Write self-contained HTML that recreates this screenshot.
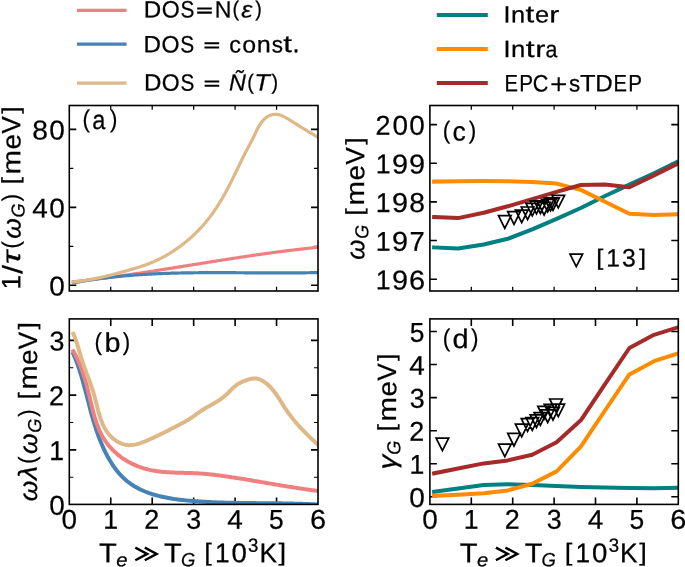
<!DOCTYPE html>
<html><head><meta charset="utf-8"><style>
html,body{margin:0;padding:0;background:#fff;overflow:hidden}
svg{display:block;will-change:transform}
text{font-family:"Liberation Sans",sans-serif;font-kerning:none;stroke:#000;stroke-width:0.25px}
</style></head><body>
<svg width="685" height="567" viewBox="0 0 685 567">
<defs>
<clipPath id="clipa"><rect x="69.3" y="105.5" width="248.7" height="185.5"/></clipPath>
<clipPath id="clipb"><rect x="69.3" y="318.9" width="248.7" height="185.5"/></clipPath>
<clipPath id="clipc"><rect x="429.9" y="105.5" width="248.4" height="185.5"/></clipPath>
<clipPath id="clipd"><rect x="429.9" y="318.9" width="248.4" height="185.5"/></clipPath>
</defs>
<line x1="77.0" y1="10.3" x2="126.6" y2="10.3" stroke="#F08080" stroke-width="3.2"/>
<line x1="77.0" y1="44.2" x2="126.6" y2="44.2" stroke="#4682B4" stroke-width="3.2"/>
<line x1="77.0" y1="83.2" x2="126.6" y2="83.2" stroke="#DEB887" stroke-width="3.2"/>
<line x1="436.8" y1="15.1" x2="487.8" y2="15.1" stroke="#008080" stroke-width="4.0"/>
<line x1="436.8" y1="49.1" x2="487.8" y2="49.1" stroke="#FF8C00" stroke-width="4.0"/>
<line x1="436.8" y1="83.1" x2="487.8" y2="83.1" stroke="#A52A2A" stroke-width="4.0"/>
<path d="M110.75,291v-4.3 M110.75,105.5v4.3 M152.2,291v-4.3 M152.2,105.5v4.3 M193.65,291v-4.3 M193.65,105.5v4.3 M235.1,291v-4.3 M235.1,105.5v4.3 M276.55,291v-4.3 M276.55,105.5v4.3" stroke="#000" stroke-width="1.25" fill="none"/>
<path d="M69.3,285.3h7 M318,285.3h-7 M69.3,207.34h7 M318,207.34h-7 M69.3,129.38h7 M318,129.38h-7" stroke="#000" stroke-width="1.6" fill="none"/>
<path d="M69.3,246.32h4 M318,246.32h-4 M69.3,168.36h4 M318,168.36h-4" stroke="#000" stroke-width="1.2" fill="none"/>
<path d="M110.75,504.4v-7 M110.75,318.9v7 M152.2,504.4v-7 M152.2,318.9v7 M193.65,504.4v-7 M193.65,318.9v7 M235.1,504.4v-7 M235.1,318.9v7 M276.55,504.4v-7 M276.55,318.9v7 M69.3,449.85h7 M318,449.85h-7 M69.3,395.1h7 M318,395.1h-7 M69.3,340.35h7 M318,340.35h-7" stroke="#000" stroke-width="1.6" fill="none"/>
<path d="M69.3,477.23h4 M318,477.23h-4 M69.3,422.48h4 M318,422.48h-4 M69.3,367.73h4 M318,367.73h-4" stroke="#000" stroke-width="1.2" fill="none"/>
<path d="M471.3,291v-4.3 M471.3,105.5v4.3 M512.7,291v-4.3 M512.7,105.5v4.3 M554.1,291v-4.3 M554.1,105.5v4.3 M595.5,291v-4.3 M595.5,105.5v4.3 M636.9,291v-4.3 M636.9,105.5v4.3" stroke="#000" stroke-width="1.25" fill="none"/>
<path d="M429.9,279.2h7 M678.3,279.2h-7 M429.9,240.55h7 M678.3,240.55h-7 M429.9,201.9h7 M678.3,201.9h-7 M429.9,163.25h7 M678.3,163.25h-7 M429.9,124.6h7 M678.3,124.6h-7" stroke="#000" stroke-width="1.6" fill="none"/>
<path d="M471.3,504.4v-7 M471.3,318.9v7 M512.7,504.4v-7 M512.7,318.9v7 M554.1,504.4v-7 M554.1,318.9v7 M595.5,504.4v-7 M595.5,318.9v7 M636.9,504.4v-7 M636.9,318.9v7 M429.9,496.8h7 M678.3,496.8h-7 M429.9,463.74h7 M678.3,463.74h-7 M429.9,430.68h7 M678.3,430.68h-7 M429.9,397.62h7 M678.3,397.62h-7 M429.9,364.56h7 M678.3,364.56h-7 M429.9,331.5h7 M678.3,331.5h-7" stroke="#000" stroke-width="1.6" fill="none"/>
<path clip-path="url(#clipa)" d="M73.31,281.75 L74.26,281.65 L75.21,281.54 L76.16,281.44 L77.11,281.34 L78.06,281.23 L79,281.13 L79.95,281.02 L80.9,280.92 L81.85,280.81 L82.8,280.7 L83.75,280.6 L84.7,280.49 L85.64,280.38 L86.59,280.27 L87.54,280.15 L88.49,280.04 L89.44,279.93 L90.38,279.82 L91.33,279.7 L92.28,279.59 L93.23,279.47 L94.17,279.36 L95.12,279.24 L96.07,279.12 L97.01,279 L97.96,278.88 L98.91,278.76 L99.85,278.64 L100.8,278.52 L101.75,278.4 L102.69,278.28 L103.64,278.16 L104.59,278.03 L105.53,277.91 L106.48,277.79 L107.42,277.66 L108.37,277.54 L109.32,277.41 L110.26,277.28 L111.21,277.16 L112.15,277.03 L113.1,276.9 L114.04,276.77 L114.99,276.64 L115.93,276.51 L116.88,276.38 L117.82,276.25 L118.77,276.12 L119.71,275.99 L120.66,275.85 L121.6,275.72 L122.55,275.59 L123.49,275.45 L124.44,275.32 L125.38,275.19 L126.33,275.05 L127.27,274.91 L128.22,274.78 L129.16,274.64 L130.1,274.5 L131.05,274.37 L131.99,274.23 L132.94,274.09 L133.88,273.95 L134.82,273.81 L135.77,273.67 L136.71,273.53 L137.65,273.39 L138.6,273.25 L139.54,273.11 L140.48,272.97 L141.43,272.83 L142.37,272.69 L143.31,272.55 L144.26,272.4 L145.2,272.26 L146.14,272.12 L147.09,271.97 L148.03,271.83 L148.97,271.68 L149.92,271.54 L150.86,271.39 L151.8,271.25 L152.74,271.1 L153.69,270.96 L154.63,270.81 L155.57,270.67 L156.52,270.52 L157.46,270.37 L158.4,270.23 L159.34,270.08 L160.29,269.93 L161.23,269.78 L162.17,269.64 L163.11,269.49 L164.06,269.34 L165,269.19 L165.94,269.04 L166.88,268.9 L167.82,268.75 L168.77,268.6 L169.71,268.45 L170.65,268.3 L171.59,268.15 L172.54,268 L173.48,267.85 L174.42,267.7 L175.36,267.55 L176.3,267.4 L177.25,267.25 L178.19,267.1 L179.13,266.95 L180.07,266.8 L181.01,266.65 L181.96,266.5 L182.9,266.35 L183.84,266.2 L184.78,266.04 L185.72,265.89 L186.67,265.74 L187.61,265.59 L188.55,265.44 L189.49,265.29 L190.43,265.14 L191.38,264.99 L192.32,264.84 L193.26,264.68 L194.2,264.53 L195.14,264.38 L196.09,264.23 L197.03,264.08 L197.97,263.93 L198.91,263.78 L199.85,263.63 L200.8,263.48 L201.74,263.33 L202.68,263.18 L203.62,263.02 L204.56,262.87 L205.51,262.72 L206.45,262.57 L207.39,262.42 L208.33,262.27 L209.27,262.12 L210.22,261.97 L211.16,261.82 L212.1,261.67 L213.04,261.52 L213.98,261.37 L214.93,261.23 L215.87,261.08 L216.81,260.93 L217.75,260.78 L218.7,260.63 L219.64,260.48 L220.58,260.33 L221.52,260.19 L222.47,260.04 L223.41,259.89 L224.35,259.74 L225.29,259.6 L226.24,259.45 L227.18,259.3 L228.12,259.16 L229.06,259.01 L230.01,258.86 L230.95,258.72 L231.89,258.57 L232.83,258.43 L233.78,258.28 L234.72,258.14 L235.66,257.99 L236.61,257.85 L237.55,257.71 L238.49,257.56 L239.43,257.42 L240.38,257.28 L241.32,257.13 L242.26,256.99 L243.21,256.85 L244.15,256.71 L245.09,256.57 L246.04,256.43 L246.98,256.29 L247.93,256.15 L248.87,256.01 L249.81,255.87 L250.76,255.73 L251.7,255.59 L252.64,255.45 L253.59,255.32 L254.53,255.18 L255.48,255.04 L256.42,254.91 L257.37,254.77 L258.31,254.63 L259.25,254.5 L260.2,254.36 L261.14,254.23 L262.09,254.1 L263.03,253.96 L263.98,253.83 L264.92,253.7 L265.87,253.57 L266.81,253.44 L267.76,253.31 L268.7,253.18 L269.65,253.05 L270.59,252.92 L271.54,252.79 L272.48,252.66 L273.43,252.53 L274.37,252.41 L275.32,252.28 L276.27,252.16 L277.21,252.03 L278.16,251.91 L279.1,251.78 L280.05,251.66 L281,251.54 L281.94,251.41 L282.89,251.29 L283.83,251.17 L284.78,251.05 L285.73,250.93 L286.67,250.81 L287.62,250.7 L288.57,250.58 L289.52,250.46 L290.46,250.34 L291.41,250.23 L292.36,250.11 L293.3,250 L294.25,249.89 L295.2,249.77 L296.15,249.66 L297.1,249.55 L298.04,249.44 L298.99,249.33 L299.94,249.22 L300.89,249.11 L301.84,249 L302.79,248.9 L303.73,248.79 L304.68,248.68 L305.63,248.58 L306.58,248.48 L307.53,248.37 L308.48,248.27 L309.43,248.17 L310.38,248.07 L311.33,247.97 L312.28,247.87 L313.23,247.77 L314.18,247.67 L315.13,247.58 L316.08,247.48 L317.03,247.38 L317.98,247.29" fill="none" stroke="#F08080" stroke-width="3.2" stroke-linecap="square" stroke-linejoin="round"/>
<path clip-path="url(#clipa)" d="M73.41,282.83 L74.35,282.66 L75.28,282.49 L76.22,282.32 L77.15,282.15 L78.09,281.98 L79.02,281.81 L79.96,281.65 L80.89,281.49 L81.83,281.33 L82.76,281.17 L83.7,281.02 L84.64,280.86 L85.57,280.71 L86.51,280.56 L87.45,280.42 L88.38,280.27 L89.32,280.12 L90.26,279.98 L91.19,279.84 L92.13,279.7 L93.07,279.56 L94.01,279.43 L94.95,279.29 L95.88,279.16 L96.82,279.03 L97.76,278.9 L98.7,278.78 L99.64,278.65 L100.57,278.53 L101.51,278.4 L102.45,278.28 L103.39,278.16 L104.33,278.05 L105.27,277.93 L106.21,277.82 L107.15,277.71 L108.09,277.59 L109.03,277.49 L109.97,277.38 L110.91,277.27 L111.85,277.17 L112.79,277.06 L113.73,276.96 L114.67,276.86 L115.61,276.76 L116.55,276.67 L117.49,276.57 L118.43,276.48 L119.37,276.39 L120.31,276.29 L121.25,276.2 L122.19,276.12 L123.14,276.03 L124.08,275.94 L125.02,275.86 L125.96,275.78 L126.9,275.7 L127.84,275.62 L128.79,275.54 L129.73,275.46 L130.67,275.38 L131.61,275.31 L132.55,275.24 L133.5,275.16 L134.44,275.09 L135.38,275.02 L136.32,274.96 L137.27,274.89 L138.21,274.82 L139.15,274.76 L140.1,274.7 L141.04,274.63 L141.98,274.57 L142.93,274.51 L143.87,274.45 L144.81,274.4 L145.76,274.34 L146.7,274.29 L147.64,274.23 L148.59,274.18 L149.53,274.13 L150.48,274.08 L151.42,274.03 L152.36,273.98 L153.31,273.93 L154.25,273.89 L155.2,273.84 L156.14,273.8 L157.09,273.75 L158.03,273.71 L158.98,273.67 L159.92,273.63 L160.87,273.59 L161.81,273.55 L162.76,273.52 L163.7,273.48 L164.65,273.45 L165.59,273.41 L166.54,273.38 L167.48,273.35 L168.43,273.31 L169.37,273.28 L170.32,273.25 L171.26,273.22 L172.21,273.2 L173.15,273.17 L174.1,273.14 L175.05,273.12 L175.99,273.09 L176.94,273.07 L177.88,273.05 L178.83,273.02 L179.78,273 L180.72,272.98 L181.67,272.96 L182.61,272.94 L183.56,272.92 L184.51,272.91 L185.45,272.89 L186.4,272.87 L187.35,272.86 L188.29,272.84 L189.24,272.83 L190.19,272.81 L191.13,272.8 L192.08,272.79 L193.03,272.78 L193.97,272.77 L194.92,272.76 L195.87,272.75 L196.81,272.74 L197.76,272.73 L198.71,272.72 L199.65,272.71 L200.6,272.7 L201.55,272.7 L202.49,272.69 L203.44,272.69 L204.39,272.68 L205.34,272.68 L206.28,272.67 L207.23,272.67 L208.18,272.67 L209.12,272.66 L210.07,272.66 L211.02,272.66 L211.97,272.66 L212.91,272.66 L213.86,272.66 L214.81,272.66 L215.76,272.66 L216.7,272.66 L217.65,272.66 L218.6,272.66 L219.55,272.66 L220.49,272.66 L221.44,272.66 L222.39,272.67 L223.34,272.67 L224.28,272.67 L225.23,272.68 L226.18,272.68 L227.13,272.68 L228.07,272.69 L229.02,272.69 L229.97,272.69 L230.92,272.7 L231.86,272.7 L232.81,272.71 L233.76,272.71 L234.71,272.72 L235.65,272.72 L236.6,272.73 L237.55,272.74 L238.5,272.74 L239.44,272.75 L240.39,272.75 L241.34,272.76 L242.29,272.77 L243.23,272.77 L244.18,272.78 L245.13,272.79 L246.08,272.79 L247.02,272.8 L247.97,272.8 L248.92,272.81 L249.87,272.82 L250.81,272.82 L251.76,272.83 L252.71,272.84 L253.66,272.84 L254.6,272.85 L255.55,272.85 L256.5,272.86 L257.45,272.87 L258.39,272.87 L259.34,272.88 L260.29,272.88 L261.24,272.89 L262.18,272.89 L263.13,272.9 L264.08,272.9 L265.02,272.91 L265.97,272.91 L266.92,272.92 L267.87,272.92 L268.81,272.93 L269.76,272.93 L270.71,272.93 L271.65,272.94 L272.6,272.94 L273.55,272.94 L274.49,272.94 L275.44,272.95 L276.39,272.95 L277.33,272.95 L278.28,272.95 L279.23,272.95 L280.17,272.95 L281.12,272.95 L282.07,272.95 L283.01,272.95 L283.96,272.95 L284.91,272.95 L285.85,272.94 L286.8,272.94 L287.74,272.94 L288.69,272.94 L289.64,272.93 L290.58,272.93 L291.53,272.92 L292.48,272.92 L293.42,272.91 L294.37,272.91 L295.31,272.9 L296.26,272.89 L297.2,272.88 L298.15,272.88 L299.1,272.87 L300.04,272.86 L300.99,272.85 L301.93,272.84 L302.88,272.82 L303.82,272.81 L304.77,272.8 L305.71,272.79 L306.66,272.77 L307.6,272.76 L308.55,272.74 L309.49,272.73 L310.44,272.71 L311.38,272.69 L312.33,272.68 L313.27,272.66 L314.22,272.64 L315.16,272.62 L316.1,272.6 L317.05,272.57 L317.99,272.55" fill="none" stroke="#4682B4" stroke-width="3.2" stroke-linecap="square" stroke-linejoin="round"/>
<path clip-path="url(#clipa)" d="M73.33,282 L74.61,281.86 L75.89,281.71 L77.17,281.56 L78.44,281.39 L79.71,281.23 L80.98,281.05 L82.25,280.87 L83.51,280.68 L84.77,280.48 L86.03,280.28 L87.29,280.07 L88.55,279.85 L89.8,279.63 L91.05,279.4 L92.3,279.16 L93.54,278.92 L94.79,278.68 L96.03,278.42 L97.27,278.17 L98.51,277.9 L99.75,277.64 L100.99,277.36 L102.22,277.09 L103.46,276.8 L104.69,276.52 L105.92,276.22 L107.15,275.93 L108.38,275.63 L109.61,275.32 L110.84,275.01 L112.07,274.7 L113.3,274.38 L114.53,274.06 L115.75,273.74 L116.98,273.41 L118.2,273.08 L119.43,272.75 L120.66,272.41 L121.88,272.07 L123.11,271.73 L124.33,271.39 L125.56,271.04 L126.79,270.69 L128.02,270.34 L129.24,269.99 L130.47,269.63 L131.7,269.27 L132.93,268.91 L134.16,268.55 L135.39,268.19 L136.62,267.82 L137.84,267.44 L139.07,267.06 L140.29,266.68 L141.51,266.29 L142.72,265.89 L143.93,265.48 L145.14,265.06 L146.34,264.64 L147.54,264.2 L148.73,263.76 L149.91,263.3 L151.08,262.83 L152.25,262.35 L153.41,261.85 L154.56,261.35 L155.71,260.83 L156.85,260.3 L157.98,259.76 L159.11,259.21 L160.23,258.65 L161.35,258.07 L162.46,257.49 L163.56,256.89 L164.66,256.28 L165.76,255.67 L166.84,255.04 L167.93,254.4 L169.01,253.75 L170.08,253.09 L171.16,252.42 L172.22,251.74 L173.28,251.05 L174.34,250.34 L175.4,249.63 L176.45,248.91 L177.49,248.18 L178.53,247.44 L179.56,246.7 L180.59,245.94 L181.61,245.17 L182.63,244.39 L183.64,243.61 L184.65,242.81 L185.65,242.01 L186.64,241.2 L187.62,240.38 L188.6,239.55 L189.57,238.71 L190.54,237.87 L191.5,237.01 L192.45,236.15 L193.39,235.28 L194.33,234.4 L195.25,233.52 L196.17,232.62 L197.08,231.72 L197.99,230.81 L198.88,229.9 L199.77,228.98 L200.64,228.05 L201.51,227.11 L202.37,226.16 L203.22,225.21 L204.06,224.26 L204.89,223.29 L205.71,222.32 L206.52,221.34 L207.32,220.36 L208.11,219.37 L208.89,218.37 L209.66,217.37 L210.42,216.36 L211.18,215.35 L211.92,214.33 L212.66,213.3 L213.39,212.27 L214.11,211.24 L214.82,210.2 L215.53,209.15 L216.22,208.1 L216.91,207.04 L217.6,205.98 L218.27,204.91 L218.94,203.84 L219.6,202.77 L220.26,201.69 L220.91,200.6 L221.55,199.51 L222.19,198.42 L222.82,197.33 L223.45,196.22 L224.07,195.12 L224.69,194.01 L225.3,192.9 L225.91,191.78 L226.51,190.67 L227.11,189.54 L227.7,188.42 L228.29,187.29 L228.88,186.16 L229.46,185.02 L230.04,183.89 L230.62,182.75 L231.19,181.6 L231.76,180.46 L232.33,179.31 L232.9,178.16 L233.46,177.01 L234.02,175.86 L234.58,174.71 L235.14,173.55 L235.7,172.4 L236.26,171.24 L236.81,170.09 L237.37,168.93 L237.92,167.78 L238.48,166.63 L239.04,165.48 L239.59,164.33 L240.15,163.18 L240.71,162.03 L241.27,160.88 L241.83,159.74 L242.39,158.6 L242.96,157.46 L243.53,156.33 L244.1,155.2 L244.67,154.07 L245.24,152.95 L245.82,151.83 L246.4,150.72 L246.99,149.61 L247.58,148.5 L248.17,147.4 L248.76,146.29 L249.35,145.19 L249.94,144.09 L250.53,142.99 L251.11,141.88 L251.69,140.77 L252.26,139.65 L252.83,138.53 L253.39,137.4 L253.94,136.26 L254.48,135.11 L255.01,133.96 L255.56,132.79 L256.1,131.62 L256.67,130.45 L257.25,129.28 L257.87,128.1 L258.51,126.93 L259.18,125.78 L259.88,124.64 L260.62,123.53 L261.39,122.46 L262.19,121.42 L263.03,120.43 L263.91,119.49 L264.83,118.61 L265.78,117.81 L266.78,117.07 L267.82,116.42 L268.89,115.85 L270.01,115.37 L271.15,114.99 L272.32,114.69 L273.51,114.49 L274.71,114.38 L275.91,114.37 L277.11,114.46 L278.31,114.65 L279.5,114.93 L280.68,115.3 L281.85,115.75 L283.01,116.26 L284.16,116.82 L285.3,117.42 L286.43,118.05 L287.55,118.7 L288.67,119.36 L289.77,120.03 L290.87,120.71 L291.96,121.4 L293.05,122.08 L294.13,122.77 L295.21,123.46 L296.28,124.14 L297.36,124.82 L298.43,125.49 L299.49,126.16 L300.56,126.83 L301.63,127.49 L302.69,128.14 L303.76,128.8 L304.83,129.45 L305.9,130.1 L306.97,130.74 L308.04,131.39 L309.12,132.04 L310.2,132.68 L311.28,133.33 L312.37,133.98 L313.47,134.63 L314.57,135.28 L315.67,135.93 L316.78,136.59 L317.9,137.25" fill="none" stroke="#DEB887" stroke-width="3.2" stroke-linecap="square" stroke-linejoin="round"/>
<path clip-path="url(#clipb)" d="M73.32,353.77 L73.83,354.96 L74.33,356.15 L74.83,357.35 L75.31,358.54 L75.78,359.74 L76.24,360.94 L76.7,362.15 L77.14,363.35 L77.58,364.56 L78,365.77 L78.43,366.99 L78.84,368.2 L79.24,369.42 L79.64,370.64 L80.03,371.86 L80.42,373.08 L80.8,374.3 L81.17,375.53 L81.54,376.76 L81.9,377.99 L82.26,379.22 L82.61,380.45 L82.96,381.69 L83.31,382.92 L83.65,384.16 L83.99,385.4 L84.32,386.64 L84.65,387.88 L84.98,389.12 L85.31,390.36 L85.64,391.61 L85.96,392.86 L86.29,394.1 L86.61,395.35 L86.93,396.6 L87.25,397.85 L87.58,399.1 L87.9,400.35 L88.22,401.61 L88.54,402.86 L88.87,404.11 L89.2,405.37 L89.52,406.62 L89.85,407.88 L90.19,409.14 L90.52,410.39 L90.86,411.65 L91.2,412.91 L91.55,414.17 L91.9,415.42 L92.25,416.68 L92.61,417.94 L92.98,419.2 L93.34,420.46 L93.72,421.72 L94.1,422.98 L94.48,424.24 L94.88,425.49 L95.28,426.75 L95.68,428.01 L96.1,429.27 L96.52,430.53 L96.95,431.79 L97.38,433.04 L97.83,434.3 L98.28,435.55 L98.75,436.8 L99.22,438.05 L99.7,439.3 L100.18,440.54 L100.68,441.78 L101.19,443.01 L101.71,444.24 L102.23,445.47 L102.77,446.68 L103.31,447.9 L103.87,449.1 L104.43,450.3 L105.01,451.49 L105.6,452.68 L106.19,453.85 L106.8,455.02 L107.42,456.18 L108.05,457.33 L108.69,458.47 L109.34,459.6 L110.01,460.72 L110.68,461.82 L111.37,462.92 L112.07,464 L112.78,465.07 L113.5,466.13 L114.24,467.17 L114.99,468.2 L115.75,469.22 L116.52,470.22 L117.31,471.21 L118.11,472.18 L118.93,473.14 L119.75,474.08 L120.6,475 L121.45,475.9 L122.32,476.79 L123.2,477.66 L124.1,478.51 L125.01,479.35 L125.94,480.16 L126.88,480.95 L127.84,481.73 L128.81,482.48 L129.79,483.21 L130.79,483.93 L131.81,484.62 L132.84,485.29 L133.88,485.95 L134.93,486.58 L136,487.2 L137.08,487.8 L138.17,488.38 L139.27,488.95 L140.39,489.5 L141.52,490.03 L142.65,490.54 L143.8,491.04 L144.96,491.52 L146.13,491.99 L147.31,492.44 L148.5,492.88 L149.7,493.3 L150.9,493.71 L152.12,494.1 L153.34,494.48 L154.57,494.85 L155.81,495.2 L157.06,495.54 L158.31,495.87 L159.57,496.18 L160.84,496.48 L162.11,496.78 L163.39,497.06 L164.67,497.33 L165.96,497.58 L167.26,497.83 L168.56,498.07 L169.86,498.3 L171.17,498.52 L172.48,498.73 L173.79,498.93 L175.11,499.12 L176.43,499.3 L177.76,499.48 L179.08,499.64 L180.41,499.81 L181.74,499.96 L183.07,500.1 L184.4,500.25 L185.73,500.38 L187.06,500.51 L188.39,500.63 L189.73,500.75 L191.06,500.86 L192.39,500.97 L193.72,501.07 L195.05,501.17 L196.37,501.27 L197.7,501.36 L199.02,501.45 L200.34,501.53 L201.66,501.61 L202.97,501.69 L204.29,501.77 L205.6,501.84 L206.91,501.91 L208.22,501.98 L209.53,502.05 L210.83,502.11 L212.14,502.17 L213.44,502.23 L214.74,502.28 L216.04,502.33 L217.34,502.38 L218.63,502.43 L219.93,502.48 L221.22,502.52 L222.51,502.56 L223.8,502.6 L225.09,502.64 L226.38,502.67 L227.67,502.71 L228.96,502.74 L230.24,502.77 L231.53,502.8 L232.81,502.82 L234.1,502.85 L235.38,502.87 L236.66,502.9 L237.94,502.92 L239.22,502.94 L240.5,502.96 L241.78,502.98 L243.06,502.99 L244.34,503.01 L245.62,503.02 L246.9,503.04 L248.18,503.05 L249.45,503.07 L250.73,503.08 L252.01,503.09 L253.28,503.1 L254.56,503.11 L255.84,503.12 L257.12,503.13 L258.39,503.14 L259.67,503.15 L260.95,503.16 L262.23,503.17 L263.5,503.18 L264.78,503.2 L266.06,503.21 L267.34,503.22 L268.62,503.23 L269.9,503.24 L271.18,503.25 L272.46,503.26 L273.75,503.28 L275.03,503.29 L276.31,503.31 L277.6,503.32 L278.88,503.34 L280.17,503.35 L281.46,503.37 L282.75,503.39 L284.04,503.41 L285.33,503.43 L286.62,503.46 L287.91,503.48 L289.21,503.51 L290.5,503.53 L291.8,503.56 L293.1,503.59 L294.4,503.63 L295.7,503.66 L297,503.69 L298.31,503.73 L299.61,503.77 L300.92,503.81 L302.23,503.86 L303.54,503.9 L304.86,503.95 L306.17,504 L307.49,504.05 L308.81,504.11 L310.13,504.17 L311.45,504.23 L312.78,504.29 L314.1,504.35 L315.43,504.42 L316.77,504.49 L318.1,504.57" fill="none" stroke="#4682B4" stroke-width="4.0" stroke-linecap="square" stroke-linejoin="round"/>
<path clip-path="url(#clipb)" d="M73.35,351.22 L73.95,352.29 L74.55,353.36 L75.12,354.44 L75.69,355.52 L76.24,356.61 L76.78,357.7 L77.3,358.8 L77.81,359.9 L78.32,361 L78.8,362.11 L79.28,363.22 L79.75,364.34 L80.2,365.46 L80.65,366.59 L81.08,367.72 L81.51,368.85 L81.92,369.99 L82.33,371.14 L82.73,372.28 L83.12,373.44 L83.5,374.59 L83.88,375.75 L84.24,376.92 L84.6,378.09 L84.95,379.26 L85.3,380.44 L85.64,381.62 L85.98,382.81 L86.31,384 L86.63,385.19 L86.95,386.39 L87.26,387.6 L87.58,388.8 L87.88,390.02 L88.19,391.23 L88.49,392.45 L88.79,393.68 L89.08,394.91 L89.38,396.14 L89.67,397.38 L89.96,398.62 L90.26,399.86 L90.55,401.11 L90.84,402.36 L91.14,403.61 L91.44,404.85 L91.74,406.1 L92.04,407.35 L92.35,408.6 L92.67,409.84 L92.98,411.09 L93.31,412.33 L93.64,413.56 L93.98,414.8 L94.33,416.03 L94.69,417.25 L95.05,418.47 L95.43,419.68 L95.81,420.89 L96.21,422.09 L96.62,423.28 L97.04,424.46 L97.47,425.64 L97.92,426.8 L98.38,427.96 L98.85,429.1 L99.35,430.24 L99.85,431.36 L100.38,432.47 L100.92,433.57 L101.48,434.66 L102.05,435.73 L102.65,436.79 L103.27,437.84 L103.9,438.87 L104.55,439.89 L105.22,440.89 L105.91,441.88 L106.62,442.85 L107.34,443.81 L108.08,444.75 L108.84,445.68 L109.62,446.6 L110.41,447.5 L111.21,448.38 L112.03,449.25 L112.87,450.1 L113.72,450.94 L114.59,451.77 L115.47,452.58 L116.37,453.37 L117.27,454.15 L118.2,454.91 L119.13,455.65 L120.08,456.38 L121.05,457.1 L122.02,457.8 L123.01,458.48 L124.01,459.15 L125.02,459.8 L126.04,460.43 L127.07,461.05 L128.12,461.65 L129.17,462.24 L130.24,462.81 L131.31,463.36 L132.4,463.89 L133.49,464.41 L134.6,464.91 L135.71,465.4 L136.83,465.87 L137.96,466.32 L139.1,466.75 L140.24,467.17 L141.39,467.57 L142.55,467.95 L143.72,468.31 L144.89,468.66 L146.07,468.99 L147.26,469.3 L148.45,469.6 L149.65,469.87 L150.85,470.13 L152.06,470.37 L153.27,470.6 L154.49,470.81 L155.71,471 L156.94,471.19 L158.16,471.35 L159.4,471.51 L160.64,471.65 L161.88,471.78 L163.12,471.9 L164.37,472.01 L165.62,472.11 L166.87,472.21 L168.12,472.29 L169.38,472.36 L170.64,472.43 L171.89,472.49 L173.16,472.55 L174.42,472.6 L175.68,472.64 L176.95,472.68 L178.21,472.72 L179.48,472.76 L180.74,472.79 L182.01,472.82 L183.27,472.85 L184.53,472.89 L185.8,472.92 L187.06,472.95 L188.32,472.98 L189.58,473.02 L190.84,473.06 L192.1,473.1 L193.35,473.15 L194.6,473.2 L195.85,473.26 L197.1,473.33 L198.35,473.4 L199.59,473.47 L200.83,473.56 L202.07,473.65 L203.3,473.74 L204.53,473.84 L205.76,473.95 L206.99,474.06 L208.22,474.18 L209.44,474.31 L210.66,474.43 L211.89,474.57 L213.11,474.7 L214.33,474.85 L215.54,474.99 L216.76,475.14 L217.98,475.29 L219.19,475.45 L220.41,475.61 L221.62,475.77 L222.83,475.94 L224.05,476.11 L225.26,476.28 L226.47,476.46 L227.68,476.63 L228.9,476.81 L230.11,477 L231.32,477.18 L232.54,477.36 L233.75,477.55 L234.97,477.74 L236.18,477.93 L237.4,478.12 L238.61,478.31 L239.83,478.5 L241.04,478.7 L242.26,478.89 L243.48,479.09 L244.7,479.29 L245.91,479.49 L247.13,479.69 L248.35,479.89 L249.57,480.09 L250.79,480.3 L252.01,480.5 L253.22,480.71 L254.44,480.91 L255.66,481.12 L256.88,481.32 L258.1,481.53 L259.32,481.74 L260.54,481.94 L261.77,482.15 L262.99,482.36 L264.21,482.57 L265.43,482.78 L266.65,482.98 L267.87,483.19 L269.09,483.4 L270.32,483.61 L271.54,483.82 L272.76,484.02 L273.98,484.23 L275.2,484.44 L276.43,484.64 L277.65,484.85 L278.87,485.05 L280.09,485.26 L281.32,485.46 L282.54,485.66 L283.76,485.87 L284.99,486.07 L286.21,486.27 L287.43,486.47 L288.66,486.66 L289.88,486.86 L291.1,487.06 L292.32,487.25 L293.55,487.44 L294.77,487.64 L295.99,487.83 L297.22,488.01 L298.44,488.2 L299.66,488.39 L300.89,488.57 L302.11,488.75 L303.33,488.93 L304.55,489.11 L305.78,489.29 L307,489.46 L308.22,489.64 L309.45,489.81 L310.67,489.97 L311.89,490.14 L313.11,490.3 L314.33,490.46 L315.56,490.62 L316.78,490.78 L318,490.93" fill="none" stroke="#F08080" stroke-width="4.0" stroke-linecap="square" stroke-linejoin="round"/>
<path clip-path="url(#clipb)" d="M73.39,333.85 L73.93,335.12 L74.46,336.41 L74.97,337.72 L75.46,339.04 L75.93,340.38 L76.39,341.72 L76.84,343.07 L77.28,344.44 L77.7,345.81 L78.12,347.18 L78.54,348.56 L78.95,349.94 L79.35,351.33 L79.76,352.72 L80.17,354.1 L80.57,355.48 L80.99,356.86 L81.41,358.23 L81.83,359.6 L82.27,360.96 L82.71,362.32 L83.17,363.66 L83.63,365 L84.1,366.33 L84.57,367.66 L85.05,368.98 L85.54,370.3 L86.02,371.62 L86.51,372.93 L87,374.24 L87.5,375.55 L87.99,376.87 L88.48,378.18 L88.97,379.49 L89.45,380.8 L89.93,382.12 L90.41,383.44 L90.88,384.76 L91.35,386.09 L91.8,387.43 L92.25,388.77 L92.69,390.11 L93.12,391.47 L93.54,392.83 L93.94,394.2 L94.33,395.58 L94.72,396.97 L95.09,398.37 L95.45,399.78 L95.81,401.19 L96.16,402.6 L96.51,404.01 L96.86,405.43 L97.21,406.84 L97.57,408.26 L97.94,409.67 L98.31,411.07 L98.69,412.47 L99.08,413.87 L99.49,415.25 L99.92,416.62 L100.36,417.99 L100.82,419.34 L101.31,420.67 L101.82,421.99 L102.35,423.3 L102.92,424.58 L103.51,425.85 L104.14,427.09 L104.8,428.32 L105.5,429.52 L106.23,430.69 L107.01,431.84 L107.83,432.96 L108.69,434.05 L109.6,435.12 L110.56,436.15 L111.57,437.14 L112.62,438.1 L113.72,439.02 L114.86,439.89 L116.03,440.7 L117.24,441.47 L118.48,442.17 L119.75,442.81 L121.04,443.38 L122.36,443.88 L123.69,444.3 L125.04,444.64 L126.4,444.89 L127.77,445.05 L129.15,445.13 L130.53,445.12 L131.92,445.03 L133.31,444.87 L134.71,444.65 L136.11,444.36 L137.5,444.01 L138.9,443.62 L140.29,443.18 L141.68,442.7 L143.07,442.18 L144.45,441.64 L145.82,441.07 L147.18,440.49 L148.54,439.89 L149.88,439.28 L151.22,438.67 L152.54,438.06 L153.85,437.46 L155.15,436.85 L156.44,436.24 L157.72,435.64 L158.99,435.03 L160.26,434.42 L161.52,433.81 L162.77,433.2 L164.02,432.58 L165.26,431.97 L166.5,431.35 L167.74,430.72 L168.98,430.1 L170.21,429.47 L171.45,428.83 L172.68,428.2 L173.92,427.55 L175.16,426.91 L176.4,426.25 L177.65,425.59 L178.9,424.93 L180.15,424.26 L181.42,423.58 L182.68,422.89 L183.96,422.2 L185.23,421.49 L186.5,420.78 L187.75,420.05 L189,419.31 L190.22,418.54 L191.43,417.76 L192.6,416.96 L193.74,416.14 L194.87,415.31 L195.99,414.47 L197.1,413.64 L198.24,412.83 L199.39,412.03 L200.56,411.26 L201.75,410.5 L202.95,409.76 L204.16,409.02 L205.39,408.3 L206.62,407.59 L207.86,406.87 L209.11,406.17 L210.35,405.46 L211.6,404.75 L212.84,404.03 L214.08,403.31 L215.3,402.58 L216.52,401.83 L217.73,401.07 L218.93,400.3 L220.1,399.5 L221.26,398.68 L222.4,397.84 L223.52,396.97 L224.61,396.08 L225.67,395.15 L226.71,394.2 L227.74,393.22 L228.75,392.23 L229.75,391.24 L230.76,390.25 L231.77,389.26 L232.79,388.29 L233.83,387.35 L234.89,386.43 L235.98,385.54 L237.1,384.7 L238.26,383.91 L239.47,383.17 L240.72,382.49 L242.02,381.87 L243.35,381.29 L244.72,380.77 L246.11,380.28 L247.52,379.83 L248.94,379.42 L250.37,379.04 L251.81,378.72 L253.23,378.49 L254.64,378.38 L256.02,378.44 L257.37,378.65 L258.69,379.01 L259.97,379.49 L261.22,380.07 L262.44,380.73 L263.62,381.46 L264.76,382.23 L265.86,383.05 L266.93,383.91 L267.97,384.81 L268.98,385.75 L269.96,386.73 L270.91,387.74 L271.84,388.79 L272.75,389.86 L273.64,390.96 L274.5,392.08 L275.35,393.22 L276.19,394.39 L277.01,395.57 L277.82,396.77 L278.62,397.97 L279.41,399.19 L280.19,400.42 L280.97,401.65 L281.75,402.88 L282.53,404.12 L283.31,405.35 L284.09,406.58 L284.87,407.8 L285.67,409.01 L286.47,410.21 L287.28,411.4 L288.1,412.57 L288.94,413.73 L289.78,414.88 L290.63,416.01 L291.5,417.14 L292.37,418.25 L293.25,419.35 L294.15,420.44 L295.05,421.52 L295.96,422.59 L296.88,423.65 L297.8,424.7 L298.74,425.75 L299.69,426.78 L300.64,427.81 L301.6,428.84 L302.57,429.86 L303.55,430.87 L304.53,431.88 L305.52,432.88 L306.52,433.88 L307.53,434.87 L308.54,435.87 L309.56,436.86 L310.59,437.85 L311.62,438.83 L312.66,439.82 L313.7,440.81 L314.75,441.79 L315.81,442.78 L316.87,443.76 L317.94,444.75" fill="none" stroke="#DEB887" stroke-width="4.0" stroke-linecap="square" stroke-linejoin="round"/>
<path clip-path="url(#clipc)" d="M434.1,247.4 L458.1,248.4 L483.7,244.5 L507.8,238.8 L532.2,229.3 L556.6,218.8 L580.8,208 L605,196 L629.4,184.6 L654,173.2 L678.3,161.3" fill="none" stroke="#008080" stroke-width="4.0" stroke-linecap="square" stroke-linejoin="round"/>
<path clip-path="url(#clipc)" d="M434.1,181.6 L458.1,181.2 L483.7,181.1 L507.8,181.3 L532.2,182 L556.6,183.6 L580.8,189.9 L605,201.8 L629.4,213.8 L654,215 L678.3,214.2" fill="none" stroke="#FF8C00" stroke-width="4.0" stroke-linecap="square" stroke-linejoin="round"/>
<path clip-path="url(#clipc)" d="M434.1,217.1 L458.1,218.1 L483.7,212.7 L507.8,206.3 L532.2,199.2 L556.6,191.8 L580.8,185 L605,184.6 L629.4,187.3 L654,175.4 L678.3,163.4" fill="none" stroke="#A52A2A" stroke-width="4.0" stroke-linecap="square" stroke-linejoin="round"/>
<path clip-path="url(#clipd)" d="M434.1,491.8 L458.1,488.5 L483.7,485 L507.8,484.2 L532.2,485 L556.6,486.1 L580.8,486.9 L605,487.5 L629.4,488 L654,488.2 L678.3,487.8" fill="none" stroke="#008080" stroke-width="4.0" stroke-linecap="square" stroke-linejoin="round"/>
<path clip-path="url(#clipd)" d="M434.1,495.8 L458.1,494.7 L483.7,493.3 L507.8,490.4 L532.2,483.8 L556.6,471.4 L580.8,446.7 L605,410.5 L629.4,374.4 L654,361.2 L678.3,353.3" fill="none" stroke="#FF8C00" stroke-width="4.0" stroke-linecap="square" stroke-linejoin="round"/>
<path clip-path="url(#clipd)" d="M434.1,473.3 L458.1,468.5 L483.7,463.4 L507.8,460.4 L532.2,454.7 L556.6,442.3 L580.8,420.3 L605,384.2 L629.4,348 L654,334.8 L678.3,327.2" fill="none" stroke="#A52A2A" stroke-width="4.0" stroke-linecap="square" stroke-linejoin="round"/>
<path d="M504.8,228.3 L498.5,215.7 L511.1,215.7 Z M514,224.3 L507.7,211.7 L520.3,211.7 Z M521.7,222.7 L515.4,210.1 L528,210.1 Z M527.6,219.6 L521.3,207 L533.9,207 Z M532.3,215.9 L526,203.3 L538.6,203.3 Z M536.5,213.8 L530.2,201.2 L542.8,201.2 Z M540.4,213.5 L534.1,200.9 L546.7,200.9 Z M544.1,215 L537.8,202.4 L550.4,202.4 Z M547.7,211.9 L541.4,199.3 L554,199.3 Z M550.5,210.8 L544.2,198.2 L556.8,198.2 Z M553,210.4 L546.7,197.8 L559.3,197.8 Z M558.3,207.9 L552,195.3 L564.6,195.3 Z M576.3,266.7 L570,254.1 L582.6,254.1 Z" fill="none" stroke="#000" stroke-width="1.7" stroke-linejoin="miter"/>
<path d="M504.8,456.7 L498.5,444.1 L511.1,444.1 Z M514,446 L507.7,433.4 L520.3,433.4 Z M521.7,436.8 L515.4,424.2 L528,424.2 Z M527.6,431.3 L521.3,418.7 L533.9,418.7 Z M532.3,430.3 L526,417.7 L538.6,417.7 Z M536.5,427.5 L530.2,414.9 L542.8,414.9 Z M540.4,425.3 L534.1,412.7 L546.7,412.7 Z M544.1,419 L537.8,406.4 L550.4,406.4 Z M547.7,422.5 L541.4,409.9 L554,409.9 Z M550.5,416.9 L544.2,404.3 L556.8,404.3 Z M553,420 L546.7,407.4 L559.3,407.4 Z M558.3,416.7 L552,404.1 L564.6,404.1 Z M556,411.6 L549.7,399 L562.3,399 Z M442.4,450.7 L436.1,438.1 L448.7,438.1 Z" fill="none" stroke="#000" stroke-width="1.7" stroke-linejoin="miter"/>
<rect x="69.3" y="105.5" width="248.7" height="185.5" fill="none" stroke="#000" stroke-width="1.6" stroke-linejoin="miter"/>
<rect x="69.3" y="318.9" width="248.7" height="185.5" fill="none" stroke="#000" stroke-width="1.6" stroke-linejoin="miter"/>
<rect x="429.9" y="105.5" width="248.4" height="185.5" fill="none" stroke="#000" stroke-width="1.6" stroke-linejoin="miter"/>
<rect x="429.9" y="318.9" width="248.4" height="185.5" fill="none" stroke="#000" stroke-width="1.6" stroke-linejoin="miter"/>
<text transform="translate(143.82,17.50) rotate(0.05) scale(1.025,1.000)" font-size="23.58">D</text>
<text transform="translate(161.71,17.58) rotate(0.05) scale(0.979,1.008)" font-size="23.58">O</text>
<text transform="translate(180.47,17.58) rotate(0.05) scale(0.883,1.008)" font-size="23.58">S</text>
<path d="M197.18,8.45H211.81M197.18,12.63H211.81" stroke="#000" stroke-width="2.1" fill="none"/>
<text transform="translate(214.68,17.50) rotate(0.05) scale(0.979,1.000)" font-size="23.58">N</text>
<text transform="translate(232.54,16.03) rotate(0.05) scale(0.837,0.902)" font-size="23.58">(</text>
<text transform="translate(241.36,17.59) rotate(0.05) scale(1.063,0.991)" font-size="23.58" font-style="italic">ε</text>
<text transform="translate(255.25,16.03) rotate(0.05) scale(0.837,0.902)" font-size="23.58">)</text>
<text transform="translate(143.61,52.30) rotate(0.05) scale(1.026,1.000)" font-size="23.58">D</text>
<text transform="translate(161.53,52.38) rotate(0.05) scale(0.981,1.008)" font-size="23.58">O</text>
<text transform="translate(180.32,52.38) rotate(0.05) scale(0.884,1.008)" font-size="23.58">S</text>
<path d="M204.48,43.25H219.13M204.48,47.43H219.13" stroke="#000" stroke-width="2.1" fill="none"/>
<text transform="translate(229.33,52.39) rotate(0.05) scale(0.995,0.989)" font-size="23.58">c</text>
<text transform="translate(242.15,52.39) rotate(0.05) scale(1.055,0.989)" font-size="23.58">o</text>
<text transform="translate(256.66,52.30) rotate(0.05) scale(1.070,0.982)" font-size="23.58">n</text>
<text transform="translate(271.68,52.39) rotate(0.05) scale(0.951,0.992)" font-size="23.58">s</text>
<text transform="translate(283.37,52.11) rotate(0.05) scale(1.326,1.013)" font-size="23.58">t</text>
<text transform="translate(292.58,52.30) rotate(0.05) scale(1.073,1.095)" font-size="23.58">.</text>
<text transform="translate(144.02,90.60) rotate(0.05) scale(1.022,1.000)" font-size="23.58">D</text>
<text transform="translate(161.86,90.68) rotate(0.05) scale(0.976,1.008)" font-size="23.58">O</text>
<text transform="translate(180.57,90.68) rotate(0.05) scale(0.881,1.008)" font-size="23.58">S</text>
<path d="M204.63,81.55H219.21M204.63,85.73H219.21" stroke="#000" stroke-width="2.1" fill="none"/>
<text transform="translate(228.99,90.60) rotate(0.05) scale(0.991,0.990)" font-size="23.58" font-style="italic">Ñ</text>
<text transform="translate(247.28,89.13) rotate(0.05) scale(0.835,0.902)" font-size="23.58">(</text>
<text transform="translate(254.31,90.60) rotate(0.05) scale(1.078,1.000)" font-size="23.58" font-style="italic">T</text>
<text transform="translate(271.57,89.13) rotate(0.05) scale(0.835,0.902)" font-size="23.58">)</text>
<text transform="translate(503.60,22.50) rotate(0.05) scale(1.055,1.000)" font-size="23.58">I</text>
<text transform="translate(510.98,22.50) rotate(0.05) scale(1.076,0.982)" font-size="23.58">n</text>
<text transform="translate(525.59,22.31) rotate(0.05) scale(1.333,1.013)" font-size="23.58">t</text>
<text transform="translate(534.88,22.59) rotate(0.05) scale(1.078,0.989)" font-size="23.58">e</text>
<text transform="translate(549.26,22.50) rotate(0.05) scale(1.278,0.982)" font-size="23.58">r</text>
<text transform="translate(503.57,57.10) rotate(0.05) scale(1.069,1.000)" font-size="23.58">I</text>
<text transform="translate(511.05,57.10) rotate(0.05) scale(1.090,0.982)" font-size="23.58">n</text>
<text transform="translate(525.86,56.91) rotate(0.05) scale(1.352,1.013)" font-size="23.58">t</text>
<text transform="translate(535.19,57.10) rotate(0.05) scale(1.296,0.982)" font-size="23.58">r</text>
<text transform="translate(545.38,57.19) rotate(0.05) scale(0.909,0.989)" font-size="23.58">a</text>
<text transform="translate(504.44,91.30) rotate(0.05) scale(0.857,1.000)" font-size="23.58">E</text>
<text transform="translate(519.14,91.30) rotate(0.05) scale(0.875,1.000)" font-size="23.58">P</text>
<text transform="translate(532.82,91.38) rotate(0.05) scale(0.918,1.008)" font-size="23.58">C</text>
<path d="M551.37,84.32H565.97M558.67,77.35V91.30" stroke="#000" stroke-width="2.1" fill="none"/>
<text transform="translate(569.08,91.39) rotate(0.05) scale(0.948,0.992)" font-size="23.58">s</text>
<text transform="translate(579.95,91.30) rotate(0.05) scale(1.079,1.000)" font-size="23.58">T</text>
<text transform="translate(595.15,91.30) rotate(0.05) scale(1.023,1.000)" font-size="23.58">D</text>
<text transform="translate(613.43,91.30) rotate(0.05) scale(0.857,1.000)" font-size="23.58">E</text>
<text transform="translate(628.13,91.30) rotate(0.05) scale(0.875,1.000)" font-size="23.58">P</text>
<text transform="translate(596.28,264.93) rotate(0.05) scale(1.021,0.903)" font-size="25.00">[</text>
<text transform="translate(606.37,266.50) rotate(0.05) scale(0.987,1.000)" font-size="25.00">1</text>
<text transform="translate(622.07,266.59) rotate(0.05) scale(0.993,1.008)" font-size="25.00">3</text>
<text transform="translate(638.93,264.93) rotate(0.05) scale(1.021,0.903)" font-size="25.00">]</text>
<text transform="translate(82.42,127.31) rotate(0.05) scale(0.820,0.902)" font-size="27.10">(</text>
<text transform="translate(92.37,129.10) rotate(0.05) scale(0.872,0.989)" font-size="27.10">a</text>
<text transform="translate(109.88,127.31) rotate(0.05) scale(0.820,0.902)" font-size="27.10">)</text>
<text transform="translate(94.51,350.01) rotate(0.05) scale(0.826,0.902)" font-size="27.10">(</text>
<text transform="translate(104.50,351.80) rotate(0.05) scale(1.063,0.995)" font-size="27.10">b</text>
<text transform="translate(122.74,350.01) rotate(0.05) scale(0.826,0.902)" font-size="27.10">)</text>
<text transform="translate(442.71,138.61) rotate(0.05) scale(0.827,0.902)" font-size="27.10">(</text>
<text transform="translate(452.50,140.40) rotate(0.05) scale(0.982,0.989)" font-size="27.10">c</text>
<text transform="translate(468.73,138.61) rotate(0.05) scale(0.827,0.902)" font-size="27.10">)</text>
<text transform="translate(442.70,346.31) rotate(0.05) scale(0.831,0.902)" font-size="27.10">(</text>
<text transform="translate(452.45,348.10) rotate(0.05) scale(1.068,0.995)" font-size="27.10">d</text>
<text transform="translate(471.10,346.31) rotate(0.05) scale(0.831,0.902)" font-size="27.10">)</text>
<text transform="translate(49.15,295.50) rotate(0.05) scale(1.031,1.008)" font-size="27.10">0</text>
<text transform="translate(32.28,217.44) rotate(0.05) scale(1.031,1.000)" font-size="27.10">4</text>
<text transform="translate(49.15,217.54) rotate(0.05) scale(1.031,1.008)" font-size="27.10">0</text>
<text transform="translate(32.20,139.58) rotate(0.05) scale(1.042,1.008)" font-size="27.10">8</text>
<text transform="translate(49.15,139.58) rotate(0.05) scale(1.031,1.008)" font-size="27.10">0</text>
<text transform="translate(49.15,514.80) rotate(0.05) scale(1.031,1.008)" font-size="27.10">0</text>
<text transform="translate(49.37,459.95) rotate(0.05) scale(0.985,1.000)" font-size="27.10">1</text>
<text transform="translate(49.08,405.20) rotate(0.05) scale(0.994,1.003)" font-size="27.10">2</text>
<text transform="translate(49.49,350.55) rotate(0.05) scale(0.990,1.008)" font-size="27.10">3</text>
<text transform="translate(375.80,289.30) rotate(0.05) scale(0.985,1.000)" font-size="27.10">1</text>
<text transform="translate(392.10,289.40) rotate(0.05) scale(1.065,1.008)" font-size="27.10">9</text>
<text transform="translate(409.02,289.40) rotate(0.05) scale(1.067,1.008)" font-size="27.10">6</text>
<text transform="translate(375.80,250.65) rotate(0.05) scale(0.985,1.000)" font-size="27.10">1</text>
<text transform="translate(392.10,250.75) rotate(0.05) scale(1.065,1.008)" font-size="27.10">9</text>
<text transform="translate(409.41,250.65) rotate(0.05) scale(1.008,1.000)" font-size="27.10">7</text>
<text transform="translate(375.80,212.00) rotate(0.05) scale(0.985,1.000)" font-size="27.10">1</text>
<text transform="translate(392.10,212.10) rotate(0.05) scale(1.065,1.008)" font-size="27.10">9</text>
<text transform="translate(409.21,212.10) rotate(0.05) scale(1.042,1.008)" font-size="27.10">8</text>
<text transform="translate(375.80,173.35) rotate(0.05) scale(0.985,1.000)" font-size="27.10">1</text>
<text transform="translate(392.10,173.45) rotate(0.05) scale(1.065,1.008)" font-size="27.10">9</text>
<text transform="translate(408.96,173.45) rotate(0.05) scale(1.065,1.008)" font-size="27.10">9</text>
<text transform="translate(375.51,134.70) rotate(0.05) scale(0.994,1.003)" font-size="27.10">2</text>
<text transform="translate(392.44,134.80) rotate(0.05) scale(1.031,1.008)" font-size="27.10">0</text>
<text transform="translate(409.30,134.80) rotate(0.05) scale(1.031,1.008)" font-size="27.10">0</text>
<text transform="translate(409.30,507.00) rotate(0.05) scale(1.031,1.008)" font-size="27.10">0</text>
<text transform="translate(409.52,473.84) rotate(0.05) scale(0.985,1.000)" font-size="27.10">1</text>
<text transform="translate(409.23,440.78) rotate(0.05) scale(0.994,1.003)" font-size="27.10">2</text>
<text transform="translate(409.64,407.82) rotate(0.05) scale(0.990,1.008)" font-size="27.10">3</text>
<text transform="translate(409.29,374.66) rotate(0.05) scale(1.031,1.000)" font-size="27.10">4</text>
<text transform="translate(409.63,341.70) rotate(0.05) scale(0.973,1.005)" font-size="27.10">5</text>
<text transform="translate(61.53,528.80) rotate(0.05) scale(1.031,1.008)" font-size="27.10">0</text>
<text transform="translate(422.13,528.80) rotate(0.05) scale(1.031,1.008)" font-size="27.10">0</text>
<text transform="translate(103.20,528.70) rotate(0.05) scale(0.985,1.000)" font-size="27.10">1</text>
<text transform="translate(463.75,528.70) rotate(0.05) scale(0.985,1.000)" font-size="27.10">1</text>
<text transform="translate(144.36,528.70) rotate(0.05) scale(0.994,1.003)" font-size="27.10">2</text>
<text transform="translate(504.86,528.70) rotate(0.05) scale(0.994,1.003)" font-size="27.10">2</text>
<text transform="translate(186.22,528.80) rotate(0.05) scale(0.990,1.008)" font-size="27.10">3</text>
<text transform="translate(546.67,528.80) rotate(0.05) scale(0.990,1.008)" font-size="27.10">3</text>
<text transform="translate(227.32,528.70) rotate(0.05) scale(1.031,1.000)" font-size="27.10">4</text>
<text transform="translate(587.72,528.70) rotate(0.05) scale(1.031,1.000)" font-size="27.10">4</text>
<text transform="translate(269.11,528.80) rotate(0.05) scale(0.973,1.005)" font-size="27.10">5</text>
<text transform="translate(629.46,528.80) rotate(0.05) scale(0.973,1.005)" font-size="27.10">5</text>
<text transform="translate(309.95,528.80) rotate(0.05) scale(1.067,1.008)" font-size="27.10">6</text>
<text transform="translate(670.25,528.80) rotate(0.05) scale(1.067,1.008)" font-size="27.10">6</text>
<text transform="translate(99.04,562.20) rotate(0.05) scale(1.076,1.000)" font-size="27.10">T</text>
<text transform="translate(116.29,566.27) rotate(0.05) scale(1.067,0.989)" font-size="18.97" font-style="italic">e</text>
<text transform="translate(164.05,562.20) rotate(0.05) scale(1.070,1.000)" font-size="27.10">T</text>
<text transform="translate(180.94,566.27) rotate(0.05) scale(0.973,1.008)" font-size="18.97" font-style="italic">G</text>
<text transform="translate(204.15,560.50) rotate(0.05) scale(1.007,0.903)" font-size="27.10">[</text>
<text transform="translate(214.94,562.20) rotate(0.05) scale(0.973,1.000)" font-size="27.10">1</text>
<text transform="translate(231.38,562.30) rotate(0.05) scale(1.019,1.008)" font-size="27.10">0</text>
<text transform="translate(248.08,551.67) rotate(0.05) scale(0.979,1.008)" font-size="18.97">3</text>
<text transform="translate(259.46,562.20) rotate(0.05) scale(0.975,1.000)" font-size="27.10">K</text>
<text transform="translate(278.56,560.50) rotate(0.05) scale(1.007,0.903)" font-size="27.10">]</text>
<text transform="translate(459.64,562.20) rotate(0.05) scale(1.076,1.000)" font-size="27.10">T</text>
<text transform="translate(476.89,566.27) rotate(0.05) scale(1.067,0.989)" font-size="18.97" font-style="italic">e</text>
<text transform="translate(524.65,562.20) rotate(0.05) scale(1.070,1.000)" font-size="27.10">T</text>
<text transform="translate(541.54,566.27) rotate(0.05) scale(0.973,1.008)" font-size="18.97" font-style="italic">G</text>
<text transform="translate(564.75,560.50) rotate(0.05) scale(1.007,0.903)" font-size="27.10">[</text>
<text transform="translate(575.54,562.20) rotate(0.05) scale(0.973,1.000)" font-size="27.10">1</text>
<text transform="translate(591.98,562.30) rotate(0.05) scale(1.019,1.008)" font-size="27.10">0</text>
<text transform="translate(608.68,551.67) rotate(0.05) scale(0.979,1.008)" font-size="18.97">3</text>
<text transform="translate(620.06,562.20) rotate(0.05) scale(0.975,1.000)" font-size="27.10">K</text>
<text transform="translate(639.16,560.50) rotate(0.05) scale(1.007,0.903)" font-size="27.10">]</text>
<g transform="translate(20.25,287.50) rotate(-89.95)">
<text transform="translate(-2.00,0.00) scale(0.989,1.000)" font-size="26.48">1</text>
<text transform="translate(13.70,2.05) scale(1.191,1.056)" font-size="26.48">/</text>
<text transform="translate(23.38,-0.25) scale(1.320,0.959)" font-size="26.48" font-style="italic">τ</text>
<text transform="translate(39.00,-1.65) scale(0.831,0.902)" font-size="26.48">(</text>
<text transform="translate(48.86,0.10) scale(0.994,0.966)" font-size="26.48" font-style="italic">ω</text>
<text transform="translate(70.00,4.07) scale(0.975,1.008)" font-size="18.54" font-style="italic">G</text>
<text transform="translate(86.14,-1.65) scale(0.831,0.902)" font-size="26.48">)</text>
</g>
<g transform="translate(20.25,182.70) rotate(-89.95)">
<text transform="translate(-1.92,-1.67) scale(1.017,0.903)" font-size="26.48">[</text>
<text transform="translate(8.26,0.00) scale(1.112,0.982)" font-size="26.48">m</text>
<text transform="translate(33.29,0.10) scale(1.054,0.989)" font-size="26.48">e</text>
<text transform="translate(49.04,0.00) scale(0.991,1.000)" font-size="26.48">V</text>
<text transform="translate(68.94,-1.67) scale(1.017,0.903)" font-size="26.48">]</text>
</g>
<g transform="translate(36.85,500.40) rotate(-89.95)">
<text transform="translate(-0.86,0.10) scale(0.994,0.966)" font-size="26.48" font-style="italic">ω</text>
<text transform="translate(20.50,0.00) scale(1.079,0.990)" font-size="26.48" font-style="italic">λ</text>
<text transform="translate(36.61,-1.65) scale(0.830,0.902)" font-size="26.48">(</text>
<text transform="translate(46.47,0.10) scale(0.994,0.966)" font-size="26.48" font-style="italic">ω</text>
<text transform="translate(67.60,4.07) scale(0.975,1.008)" font-size="18.54" font-style="italic">G</text>
<text transform="translate(83.74,-1.65) scale(0.830,0.902)" font-size="26.48">)</text>
</g>
<g transform="translate(36.85,397.60) rotate(-89.95)">
<text transform="translate(-1.90,-1.67) scale(1.005,0.903)" font-size="26.48">[</text>
<text transform="translate(8.16,0.00) scale(1.099,0.982)" font-size="26.48">m</text>
<text transform="translate(32.88,0.10) scale(1.042,0.989)" font-size="26.48">e</text>
<text transform="translate(48.45,0.00) scale(0.979,1.000)" font-size="26.48">V</text>
<text transform="translate(68.10,-1.67) scale(1.005,0.903)" font-size="26.48">]</text>
</g>
<g transform="translate(364.10,258.80) rotate(-89.95)">
<text transform="translate(-0.85,0.10) scale(0.978,0.966)" font-size="26.48" font-style="italic">ω</text>
<text transform="translate(19.94,4.07) scale(0.959,1.008)" font-size="18.54" font-style="italic">G</text>
</g>
<g transform="translate(364.10,213.80) rotate(-89.95)">
<text transform="translate(-1.92,-1.67) scale(1.017,0.903)" font-size="26.48">[</text>
<text transform="translate(8.26,0.00) scale(1.112,0.982)" font-size="26.48">m</text>
<text transform="translate(33.29,0.10) scale(1.054,0.989)" font-size="26.48">e</text>
<text transform="translate(49.04,0.00) scale(0.991,1.000)" font-size="26.48">V</text>
<text transform="translate(68.94,-1.67) scale(1.017,0.903)" font-size="26.48">]</text>
</g>
<g transform="translate(396.05,468.00) rotate(-89.95)">
<text transform="translate(-1.59,-0.11) scale(1.106,0.969)" font-size="26.48" font-style="italic">γ</text>
<text transform="translate(13.26,4.07) scale(0.965,1.008)" font-size="18.54" font-style="italic">G</text>
</g>
<g transform="translate(396.05,429.70) rotate(-89.95)">
<text transform="translate(-1.91,-1.67) scale(1.013,0.903)" font-size="26.48">[</text>
<text transform="translate(8.22,0.00) scale(1.108,0.982)" font-size="26.48">m</text>
<text transform="translate(33.15,0.10) scale(1.050,0.989)" font-size="26.48">e</text>
<text transform="translate(48.84,0.00) scale(0.987,1.000)" font-size="26.48">V</text>
<text transform="translate(68.66,-1.67) scale(1.013,0.903)" font-size="26.48">]</text>
</g>
<path d="M135.30,547.6 L147.20,553.9 L135.30,560.2" fill="none" stroke="#000" stroke-width="2.4" stroke-linejoin="miter"/>
<path d="M144.80,547.6 L156.70,553.9 L144.80,560.2" fill="none" stroke="#000" stroke-width="2.4" stroke-linejoin="miter"/>
<path d="M495.90,547.6 L507.80,553.9 L495.90,560.2" fill="none" stroke="#000" stroke-width="2.4" stroke-linejoin="miter"/>
<path d="M505.40,547.6 L517.30,553.9 L505.40,560.2" fill="none" stroke="#000" stroke-width="2.4" stroke-linejoin="miter"/>
</svg>
</body></html>
